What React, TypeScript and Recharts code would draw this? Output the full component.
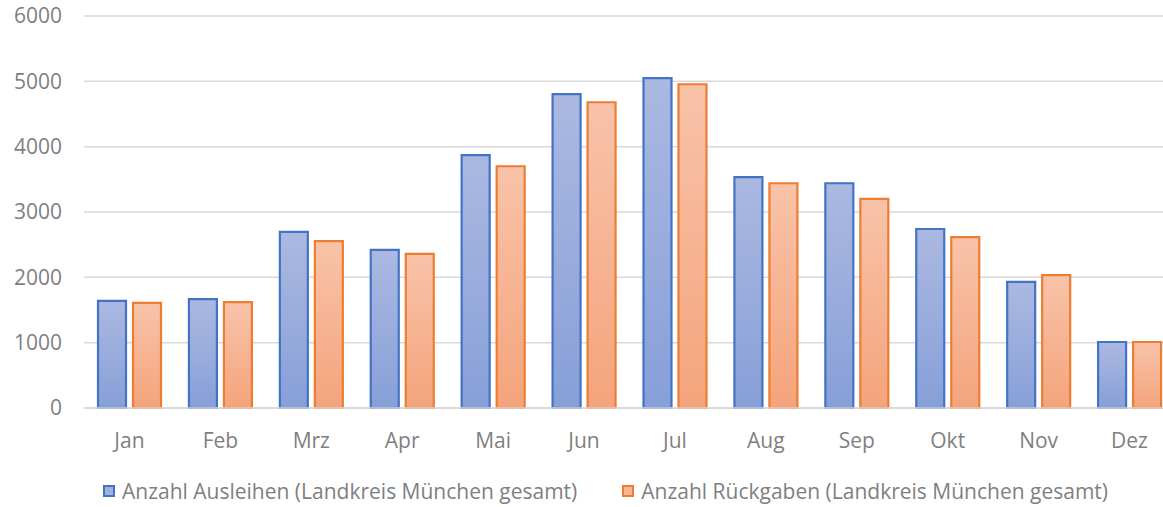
import React from 'react';
import { BarChart, Bar, XAxis, YAxis, CartesianGrid } from 'recharts';

const months = ['Jan', 'Feb', 'Mrz', 'Apr', 'Mai', 'Jun', 'Jul', 'Aug', 'Sep', 'Okt', 'Nov', 'Dez'];
const ausleihen = [1640, 1665, 2695, 2420, 3870, 4805, 5050, 3535, 3440, 2740, 1930, 1010];
const rueckgaben = [1610, 1620, 2555, 2360, 3700, 4680, 4955, 3440, 3200, 2615, 2035, 1010];
const yTicks = [0, 1000, 2000, 3000, 4000, 5000, 6000];

const seriesNames = [
  'Anzahl Ausleihen (Landkreis München gesamt)',
  'Anzahl Rückgaben (Landkreis München gesamt)',
];

const data = months.map((m, i) => ({ month: m, aus: ausleihen[i], rueck: rueckgaben[i] }));

const FONT = '"Open Sans", sans-serif';
const GRAY = '#7f7f7f';

function LegendBox({ fill, stroke, label }: { fill: string; stroke: string; label: string }) {
  return (
    <div style={{ display: 'flex', alignItems: 'center' }}>
      <span
        style={{
          display: 'inline-block',
          width: 8,
          height: 8,
          background: fill,
          border: `2px solid ${stroke}`,
          marginRight: 7,
        }}
      />
      <span>{label}</span>
    </div>
  );
}

export default function App() {
  return (
    <div style={{ position: 'fixed', left: 0, top: 0, width: 1163, height: 507, overflow: 'hidden', fontFamily: FONT, background: '#fff' }}>
      <BarChart
        width={1175}
        height={460}
        data={data}
        margin={{ top: 16, right: 0, left: 0, bottom: 0 }}
        barSize={28}
        barGap={7}
      >
        <defs>
          <linearGradient id="gBlue" x1="0" y1="0" x2="0" y2="1">
            <stop offset="0%" stopColor="#abb9e1" />
            <stop offset="100%" stopColor="#879fd8" />
          </linearGradient>
          <linearGradient id="gOrange" x1="0" y1="0" x2="0" y2="1">
            <stop offset="0%" stopColor="#f8c3a9" />
            <stop offset="100%" stopColor="#f4a47c" />
          </linearGradient>
        </defs>
        <CartesianGrid vertical={false} stroke="#d9d9d9" strokeWidth={1.5} />
        <XAxis
          dataKey="month"
          axisLine={{ stroke: '#d9d9d9', strokeWidth: 1.5 }}
          tickLine={false}
          tick={{ fill: GRAY, fontSize: 21, fontFamily: FONT }}
          tickMargin={19}
          height={52}
        />
        <YAxis
          domain={[0, 6000]}
          ticks={yTicks}
          axisLine={false}
          tickLine={false}
          width={84}
          tick={{ fill: GRAY, fontSize: 21, fontFamily: FONT }}
          tickMargin={16}
        />
        <Bar dataKey="aus" name={seriesNames[0]} fill="url(#gBlue)" stroke="#4472c4" strokeWidth={2.2} isAnimationActive={false} />
        <Bar dataKey="rueck" name={seriesNames[1]} fill="url(#gOrange)" stroke="#ed7d31" strokeWidth={2.2} isAnimationActive={false} />
      </BarChart>
      <div
        style={{
          position: 'absolute',
          top: 477,
          left: 103,
          display: 'flex',
          gap: 45,
          color: GRAY,
          fontSize: 21,
          fontFamily: FONT,
          whiteSpace: 'nowrap',
        }}
      >
        <LegendBox fill="#9fb0de" stroke="#4472c4" label={seriesNames[0]} />
        <LegendBox fill="#f6b497" stroke="#ed7d31" label={seriesNames[1]} />
      </div>
    </div>
  );
}
